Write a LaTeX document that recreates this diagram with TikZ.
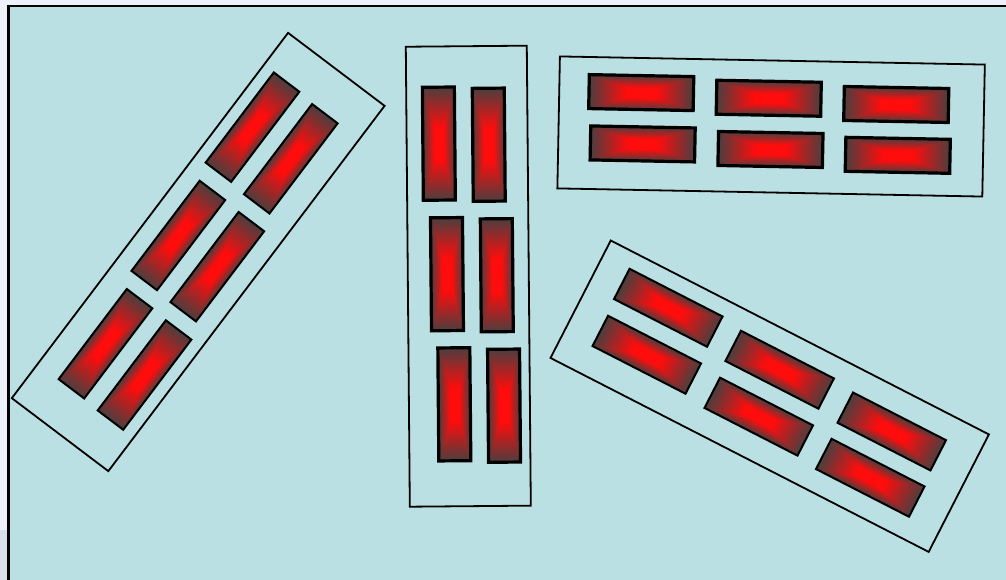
\documentclass[tikz,border=0pt]{standalone}
\definecolor{paper}{RGB}{238,241,250}
\definecolor{papershade}{RGB}{218,223,236}
\definecolor{pool}{RGB}{187,224,227}
% glow from the grey rim to a red core, in nested rectangles
\pgfdeclarefunctionalshading{glow}{\pgfpoint{-50bp}{-50bp}}{\pgfpoint{50bp}{50bp}}{}{%
  abs 25 div 1 exch sub exch abs 25 div 1 exch sub 2 copy gt {exch} if pop
  1.4 mul dup 1 gt {pop 1} if dup 0 lt {pop 0} if
  dup 0.7 mul 0.3 add exch dup -0.196 mul 0.243 add exch -0.196 mul 0.243 add}
\begin{document}
\begin{tikzpicture}[
    x=1pt, y=1pt,
    frame/.style={draw, line width=1.8pt, fill=pool, inner sep=0pt},
    longframe/.style={frame, minimum width=458pt, minimum height=121pt},
    shortframe/.style={frame, minimum width=425pt, minimum height=132pt},
    cell/.style={draw=black, line width=2pt, shade, shading=glow, inner sep=0pt},
    longcell/.style={cell, minimum width=113pt, minimum height=32pt},
    shortcell/.style={cell, minimum width=104.5pt, minimum height=34pt}
  ]
  \useasboundingbox (0,0) rectangle (1006,580);
  \fill[paper] (0,0) rectangle (1006,580);
  \fill[papershade] (0,0) rectangle (7,50);
  \draw[line width=2.5pt, fill=pool] (8.7,574.2) rectangle (1020,-20);

  % left group, tilted up to the right
  \begin{scope}[transform canvas={shift={(198.2,328)}, rotate=52.9}]
    \node[longframe] (frameA) at (0,0) {};
    \node[longcell] (a1) at (132.3,32) {};
    \node[longcell] (a2) at (130.2,-17.6) {};
    \node[longcell] (a3) at (1.2,25.8) {};
    \node[longcell] (a4) at (-0.2,-24.1) {};
    \node[longcell] (a5) at (-129.1,18.6) {};
    \node[longcell] (a6) at (-130.5,-31.4) {};
  \end{scope}

  % middle group, standing
  \begin{scope}[transform canvas={shift={(468.3,303.8)}, rotate=90.5},
      cell/.append style={line width=3.2pt}]
    \node[longframe, minimum width=460pt] (frameB) at (0,0) {};
    \node[longcell] (b1) at (132.8,28.3) {};
    \node[longcell] (b2) at (131.3,-21.6) {};
    \node[longcell] (b3) at (2.2,21.3) {};
    \node[longcell] (b4) at (0.7,-28.5) {};
    \node[longcell] (b5) at (-128,15.1) {};
    \node[longcell] (b6) at (-129.8,-34.6) {};
  \end{scope}

  % top right group, lying
  \begin{scope}[transform canvas={shift={(771.1,453.5)}, rotate=-1.1},
      cell/.append style={line width=3.2pt}]
    \node[shortframe] (frameC) at (0,0) {};
    \node[shortcell] (c1) at (-130.5,31.4) {};
    \node[shortcell] (c2) at (-2.9,28.2) {};
    \node[shortcell] (c3) at (124.7,24.4) {};
    \node[shortcell] (c4) at (-128.1,-19.9) {};
    \node[shortcell] (c5) at (-0.2,-23) {};
    \node[shortcell] (c6) at (127.2,-26.4) {};
  \end{scope}

  % bottom right group, tilted down to the right
  \begin{scope}[transform canvas={shift={(769.7,183.8)}, rotate=-27.15}]
    \node[shortframe] (frameD) at (0,0) {};
    \node[shortcell] (d1) at (-130.6,32.4) {};
    \node[shortcell] (d2) at (-128.3,-19.2) {};
    \node[shortcell] (d3) at (-3.2,28.1) {};
    \node[shortcell] (d4) at (-0.4,-23.2) {};
    \node[shortcell] (d5) at (124.7,24.3) {};
    \node[shortcell] (d6) at (126.7,-26.7) {};
  \end{scope}
\end{tikzpicture}
\end{document}
